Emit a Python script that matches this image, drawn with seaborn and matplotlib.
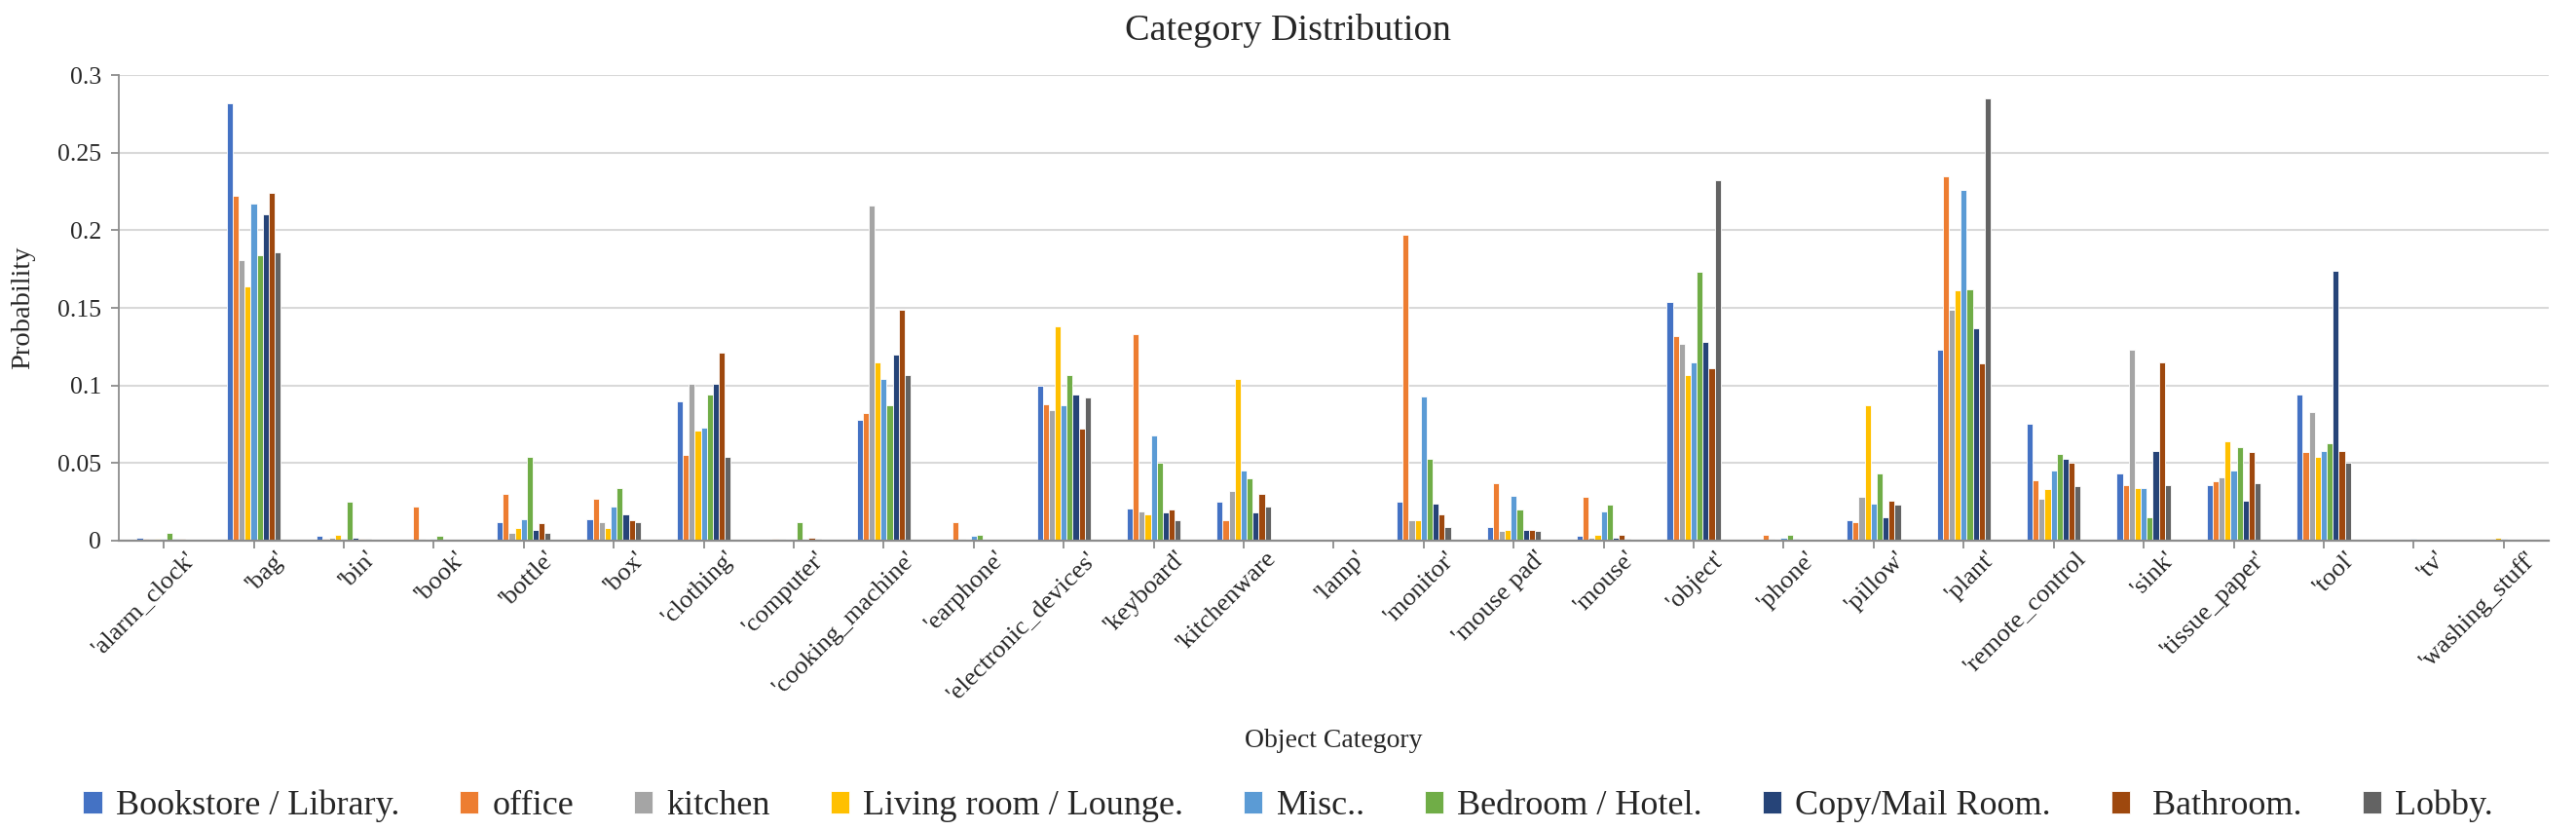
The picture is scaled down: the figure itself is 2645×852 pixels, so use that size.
import pandas as pd
import matplotlib.pyplot as plt
import matplotlib.transforms as mtransforms
import seaborn as sns

# categories and series
categories = ["'alarm_clock'", "'bag'", "'bin'", "'book'", "'bottle'", "'box'", "'clothing'",
              "'computer'", "'cooking_machine'", "'earphone'", "'electronic_devices'", "'keyboard'",
              "'kitchenware", "'lamp'", "'monitor'", "'mouse pad'", "'mouse'", "'object'", "'phone'",
              "'pillow'", "'plant'", "'remote_control", "'sink'", "'tissue_paper'", "'tool'", "'tv'",
              "'washing_stuff'"]

rooms = ["Bookstore / Library.", "office", "kitchen", "Living room / Lounge.", "Misc..",
         "Bedroom / Hotel.", "Copy/Mail Room.", " Bathroom.", "Lobby."]

bookstore = [0.002, 0.282, 0.003, 0.000, 0.012, 0.014, 0.090, 0.000, 0.078, 0.000, 0.100, 0.021,
             0.025, 0.000, 0.025, 0.009, 0.003, 0.154, 0.000, 0.013, 0.123, 0.075, 0.043, 0.036,
             0.094, 0.000, 0.000]
office = [0.001, 0.222, 0.001, 0.022, 0.030, 0.027, 0.055, 0.001, 0.082, 0.012, 0.088, 0.133,
          0.013, 0.000, 0.197, 0.037, 0.028, 0.132, 0.004, 0.012, 0.235, 0.039, 0.036, 0.038,
          0.057, 0.000, 0.000]
kitchen = [0.001, 0.181, 0.002, 0.001, 0.005, 0.012, 0.101, 0.001, 0.216, 0.001, 0.084, 0.019,
           0.032, 0.000, 0.013, 0.006, 0.002, 0.127, 0.001, 0.028, 0.149, 0.027, 0.123, 0.041,
           0.083, 0.000, 0.000]
living = [0.001, 0.164, 0.004, 0.000, 0.008, 0.008, 0.071, 0.000, 0.115, 0.000, 0.138, 0.017,
          0.104, 0.000, 0.013, 0.007, 0.004, 0.107, 0.000, 0.087, 0.161, 0.033, 0.034, 0.064,
          0.054, 0.000, 0.002]
misc = [0.001, 0.217, 0.001, 0.001, 0.014, 0.022, 0.073, 0.000, 0.104, 0.003, 0.087, 0.068,
        0.045, 0.000, 0.093, 0.029, 0.019, 0.115, 0.002, 0.024, 0.226, 0.045, 0.034, 0.045,
        0.058, 0.001, 0.001]
bedroom = [0.005, 0.184, 0.025, 0.003, 0.054, 0.034, 0.094, 0.012, 0.087, 0.004, 0.107, 0.050,
           0.040, 0.000, 0.053, 0.020, 0.023, 0.173, 0.004, 0.043, 0.162, 0.056, 0.015, 0.060,
           0.063, 0.000, 0.000]
copymail = [0.001, 0.210, 0.002, 0.000, 0.007, 0.017, 0.101, 0.000, 0.120, 0.000, 0.094, 0.018,
            0.018, 0.000, 0.024, 0.007, 0.002, 0.128, 0.001, 0.015, 0.137, 0.053, 0.058, 0.026,
            0.174, 0.000, 0.000]
bathroom = [0.001, 0.224, 0.001, 0.000, 0.011, 0.013, 0.121, 0.002, 0.149, 0.000, 0.072, 0.020,
            0.030, 0.000, 0.017, 0.007, 0.004, 0.111, 0.000, 0.026, 0.114, 0.050, 0.115, 0.057,
            0.058, 0.000, 0.000]
lobby = [0.000, 0.186, 0.001, 0.000, 0.005, 0.012, 0.054, 0.001, 0.107, 0.000, 0.092, 0.013,
         0.022, 0.000, 0.009, 0.006, 0.001, 0.232, 0.000, 0.023, 0.285, 0.035, 0.036, 0.037,
         0.050, 0.000, 0.000]

colors = ["#4472C4", "#ED7D31", "#A5A5A5", "#FFC000", "#5B9BD5",
          "#70AD47", "#264478", "#9E480E", "#636363"]

series = [bookstore, office, kitchen, living, misc, bedroom, copymail, bathroom, lobby]
rows = []
for room, vals in zip(rooms, series):
    for cat, v in zip(categories, vals):
        rows.append({"category": cat, "room": room, "prob": v})
df = pd.DataFrame(rows)

sns.set_theme(style="whitegrid")
plt.rcParams['font.family'] = ['Liberation Serif', 'DejaVu Serif']

fig = plt.figure(figsize=(26.45, 8.52), dpi=100)
ax = fig.add_axes([0.0461, 0.3486, 0.9433, 0.561])

sns.barplot(data=df, x="category", y="prob", hue="room", palette=colors, saturation=1,
            width=0.6, edgecolor="white", linewidth=0.6, ax=ax)

ax.set_xlim(-0.5, len(categories) - 0.5)
ax.set_ylim(0, 0.3)
ax.set_yticks([0, 0.05, 0.1, 0.15, 0.2, 0.25, 0.3])
ax.set_yticklabels(["0", "0.05", "0.1", "0.15", "0.2", "0.25", "0.3"], fontsize=18.5)
ax.set_xticks(range(len(categories)))
ax.set_xticklabels(categories, rotation=45, ha="right", va="top",
                   rotation_mode="anchor", fontsize=19)
ax.tick_params(axis="x", bottom=True, length=6, width=1.3, color="#8C8C8C", pad=1)
ax.tick_params(axis="y", left=True, length=6, width=1.3, color="#8C8C8C", pad=7)

# shift rotated labels a little to the right, like the original
shift = mtransforms.ScaledTranslation(0.22, 0.03, fig.dpi_scale_trans)
for lab in ax.get_xticklabels():
    lab.set_transform(lab.get_transform() + shift)

ax.grid(axis="y", color="#D9D9D9", linewidth=1.5)
ax.grid(axis="x", visible=False)
for s in ["top", "right"]:
    ax.spines[s].set_visible(False)
ax.spines["left"].set_color("#8C8C8C")
ax.spines["left"].set_linewidth(1.3)
ax.spines["bottom"].set_color("#8C8C8C")
ax.spines["bottom"].set_linewidth(1.6)

fig.text(0.5, 0.963, "Category Distribution", fontsize=27.5, ha="center", va="center")
ax.set_ylabel("Probability", fontsize=20.5)
ax.yaxis.set_label_coords(-0.0345, 0.5)
ax.set_xlabel("Object Category", fontsize=20)
ax.xaxis.set_label_coords(0.5, -0.404)

ax.legend_.remove()
handles, labels = ax.get_legend_handles_labels()
fig.legend(handles, labels, loc="center", bbox_to_anchor=(0.5, 0.029), ncol=9,
           frameon=False, fontsize=26, handlelength=0.53, handleheight=0.6,
           handletextpad=0.39, columnspacing=1.72)

plt.savefig("out.png", dpi=100)
